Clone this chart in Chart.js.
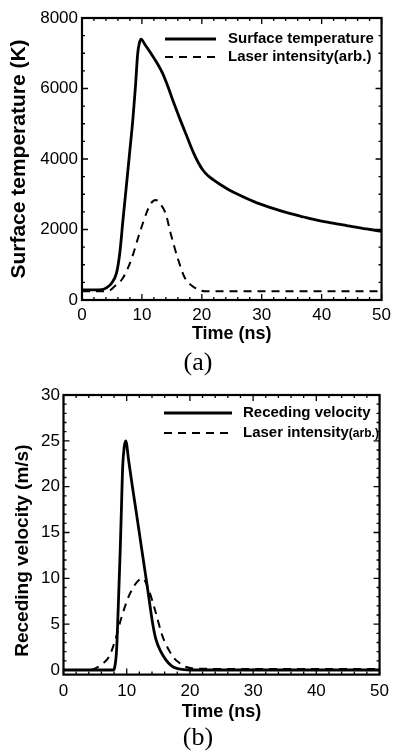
<!DOCTYPE html>
<html>
<head>
<meta charset="utf-8">
<script src="https://cdn.jsdelivr.net/npm/chart.js@4.4.0/dist/chart.umd.min.js"></script>
<style>
	body { margin: 0; background: #fff; width: 396px; height: 756px; position: relative; overflow: hidden; }
	canvas { position: absolute; left: 0; }
	#chart-a { top: 0; }
	#chart-b { top: 370px; }
	.caption { position: absolute; left: 0; width: 396px; text-align: center; font-family: "Liberation Serif", serif; font-size: 26px; line-height: 30px; color: #000; }
</style>
</head>
<body>
<canvas id="chart-a" width="396" height="346"></canvas>
<canvas id="chart-b" width="396" height="355"></canvas>
<div class="caption" style="top: 347px;">(a)</div>
<div class="caption" style="top: 722px;">(b)</div>
<script>
'use strict';

// (a) surface temperature vs time
var tempTime = [0, 2, 3.3, 4.2, 4.9, 5.75, 6.3, 6.84, 7.39, 7.94, 8.48, 8.92, 9.3, 9.6, 9.85, 10.5, 11.5, 12.5, 13.4, 14.4, 15.3, 16.4, 17.6, 18.6, 19.4, 20.2, 21, 22, 23.2, 24.5, 26, 28.7, 31.5, 34.2, 37, 39.6, 42.5, 45.1, 47.5, 50];
var tempValues = [290, 290, 295, 360, 470, 760, 1320, 2270, 3210, 4160, 5100, 6050, 7000, 7300, 7400, 7250, 7000, 6730, 6450, 6030, 5600, 5110, 4600, 4180, 3900, 3680, 3530, 3400, 3262, 3130, 3000, 2790, 2620, 2477, 2355, 2250, 2160, 2080, 2015, 1950];
var laserTimeA = [0, 3.5, 4.6, 5.5, 6.8, 8.2, 9.6, 10.95, 11.7, 12.3, 12.9, 13.95, 14.8, 15.9, 17.2, 18.4, 19.4, 20.5, 30, 40, 50];
var laserValuesA = [250, 250, 270, 400, 615, 1135, 1890, 2550, 2780, 2840, 2760, 2460, 1890, 1230, 615, 400, 300, 250, 250, 245, 245];

// (b) receding velocity vs time
var velTime = [0, 7.9, 8.1, 8.4, 8.7, 8.97, 9.2, 9.35, 9.6, 9.85, 10.3, 10.9, 11.45, 11.9, 12.5, 13.3, 14.1, 14.6, 15.4, 16.2, 17, 17.8, 19, 20, 30, 40, 50];
var velValues = [0, 0, 0.3, 2.2, 7.6, 13, 18.5, 22, 24.3, 25, 22.9, 20, 17.5, 15.4, 12.6, 8.9, 5.1, 3.4, 2.0, 1.1, 0.5, 0.2, 0.05, 0, 0, 0, 0];
var laserTimeB = [0, 4, 5.1, 6.2, 7.2, 8.2, 9.2, 10.3, 11.2, 11.9, 12.5, 13.5, 14.5, 15.6, 16.2, 17.5, 18.5, 19.3, 21, 30, 40, 50];
var laserValuesB = [0, 0, 0.2, 0.7, 1.45, 3.3, 5.8, 8.0, 9.2, 9.8, 10, 8.7, 6.5, 3.8, 2.8, 1.3, 0.7, 0.36, 0.15, 0.1, 0.1, 0.1];

// tick labels
var timeTicks = [0, 10, 20, 30, 40, 50];
var tempTicks = [0, 2000, 4000, 6000, 8000];
var velTicks = [0, 5, 10, 15, 20, 25, 30];

function toPoints(xs, ys) {
	return xs.map(function(x, i) { return { x: x, y: ys[i] }; });
}

function fixedTicks(values) {
	return function(scale) {
		scale.ticks = values.map(function(v) { return { value: v }; });
	};
}

// frame round the plot with inward major / minor ticks on all four sides
var frameTicks = {
	id: 'frameTicks',
	afterDatasetsDraw: function(chart, args, opts) {
		var ctx = chart.ctx;
		var area = chart.chartArea;
		var xs = chart.scales.x;
		var ys = chart.scales.y;
		var v, p, len;
		ctx.save();
		ctx.strokeStyle = '#000';
		ctx.lineWidth = 1.3;
		ctx.beginPath();
		for (v = xs.min; v <= xs.max + 1e-9; v += opts.xMinor) {
			p = xs.getPixelForValue(v);
			len = timeTicks.indexOf(Math.round(v)) > -1 && Math.abs(v - Math.round(v)) < 1e-6 ? opts.major : opts.minor;
			ctx.moveTo(p, area.bottom);
			ctx.lineTo(p, area.bottom - len);
			ctx.moveTo(p, area.top);
			ctx.lineTo(p, area.top + len);
		}
		var y0 = Math.ceil(ys.min / opts.yMinor) * opts.yMinor;
		for (v = y0; v <= ys.max + 1e-9; v += opts.yMinor) {
			p = ys.getPixelForValue(v);
			len = opts.yMajorList.indexOf(v) > -1 ? opts.major : opts.minor;
			ctx.moveTo(area.left, p);
			ctx.lineTo(area.left + len, p);
			ctx.moveTo(area.right, p);
			ctx.lineTo(area.right - len, p);
		}
		ctx.stroke();
		ctx.lineWidth = 2.2;
		ctx.strokeRect(area.left, area.top, area.right - area.left, area.bottom - area.top);
		ctx.restore();
	}
};

// legend drawn inside the plot area
var innerLegend = {
	id: 'innerLegend',
	afterDraw: function(chart, args, opts) {
		var ctx = chart.ctx;
		ctx.save();
		chart.data.datasets.forEach(function(ds, i) {
			var y = opts.rows[i];
			ctx.strokeStyle = ds.borderColor;
			ctx.lineWidth = ds.borderWidth;
			ctx.setLineDash(ds.borderDash || []);
			ctx.beginPath();
			ctx.moveTo(opts.x0, y);
			ctx.lineTo(opts.x1, y);
			ctx.stroke();
			ctx.setLineDash([]);
			ctx.fillStyle = '#000';
			ctx.textBaseline = 'middle';
			ctx.textAlign = 'left';
			var label = ds.label;
			var suffix = '';
			if (opts.suffixSize && label.indexOf('(arb.)') > -1) {
				suffix = '(arb.)';
				label = label.replace('(arb.)', '');
			}
			ctx.font = 'bold ' + opts.size + 'px "Liberation Sans", Arial, sans-serif';
			ctx.fillText(label, opts.tx, y);
			if (suffix) {
				var w = ctx.measureText(label).width;
				ctx.font = 'bold ' + opts.suffixSize + 'px "Liberation Sans", Arial, sans-serif';
				ctx.fillText(suffix, opts.tx + w, y + 1);
			}
		});
		ctx.restore();
	}
};

function makeChart(id, cfg) {
	var tickFont = { family: '"Liberation Sans", Arial, sans-serif', size: 17 };
	return new Chart(document.getElementById(id), {
		type: 'line',
		data: {
			datasets: [ {
				label: cfg.solidLabel,
				data: cfg.solid,
				borderColor: '#000',
				borderWidth: 2.8,
				pointRadius: 0,
				cubicInterpolationMode: 'monotone',
				fill: false
			}, {
				label: 'Laser intensity(arb.)',
				data: cfg.dashed,
				borderColor: '#000',
				borderWidth: 2,
				borderDash: [8, 6],
				pointRadius: 0,
				cubicInterpolationMode: 'monotone',
				fill: false
			} ]
		},
		options: {
			responsive: false,
			animation: false,
			devicePixelRatio: 1,
			layout: { padding: cfg.padding },
			scales: {
				x: {
					type: 'linear',
					min: 0,
					max: 50,
					afterBuildTicks: fixedTicks(timeTicks),
					afterFit: function(s) { s.height = cfg.xHeight; },
					grid: { display: false, drawTicks: false },
					border: { display: false },
					ticks: {
						color: '#000',
						font: tickFont,
						padding: cfg.xTickPad,
						maxRotation: 0,
						callback: function(v) { return String(v); }
					},
					title: {
						display: true,
						text: 'Time (ns)',
						color: '#000',
						font: { family: '"Liberation Sans", Arial, sans-serif', size: 18, weight: 'bold' },
						padding: { top: 0, bottom: cfg.xTitlePad }
					}
				},
				y: {
					type: 'linear',
					min: cfg.yMin,
					max: cfg.yMax,
					afterBuildTicks: fixedTicks(cfg.yTicks),
					afterFit: function(s) { s.width = cfg.yWidth; },
					grid: { display: false, drawTicks: false },
					border: { display: false },
					ticks: {
						color: '#000',
						font: tickFont,
						padding: cfg.yTickPad,
						callback: function(v) { return String(v); }
					},
					title: {
						display: true,
						text: cfg.yTitle,
						color: '#000',
						font: { family: '"Liberation Sans", Arial, sans-serif', size: cfg.yTitleSize, weight: 'bold' },
						padding: { top: cfg.yTitlePad, bottom: 0 }
					}
				}
			},
			plugins: {
				legend: { display: false },
				tooltip: { enabled: false },
				frameTicks: { xMinor: 2, yMinor: cfg.yMinor, yMajorList: cfg.yTicks, major: 6, minor: 3 },
				innerLegend: cfg.legend
			}
		},
		plugins: [ frameTicks, innerLegend ]
	});
}

makeChart('chart-a', {
	solidLabel: 'Surface temperature',
	solid: toPoints(tempTime, tempValues),
	dashed: toPoints(laserTimeA, laserValuesA),
	padding: { top: 18, right: 9.3, bottom: 0, left: 0 },
	xHeight: 46,
	xTickPad: 5,
	xTitlePad: 1,
	yWidth: 82,
	yTickPad: 4,
	yTitlePad: 7,
	yTitleSize: 21,
	yMin: 0,
	yMax: 8000,
	yTicks: tempTicks,
	yMinor: 500,
	yTitle: 'Surface temperature (K)',
	legend: { x0: 165, x1: 216, tx: 228, rows: [39, 57], size: 15 }
});

// trailing spaces push the centred title down to where the reference has it
makeChart('chart-b', {
	solidLabel: 'Receding velocity',
	solid: toPoints(velTime, velValues),
	dashed: toPoints(laserTimeB, laserValuesB),
	padding: { top: 25, right: 12.7, bottom: 0, left: 0 },
	xHeight: 50.4,
	xTickPad: 7,
	xTitlePad: 2.5,
	yWidth: 63.5,
	yTickPad: 3.5,
	yTitlePad: 11,
	yTitleSize: 19,
	yMin: -0.5,
	yMax: 30,
	yTicks: velTicks,
	yMinor: 1,
	yTitle: 'Receding velocity (m/s)      ',
	legend: { x0: 164, x1: 232, tx: 243, rows: [43, 63], size: 15, suffixSize: 12 }
});
</script>
</body>
</html>
